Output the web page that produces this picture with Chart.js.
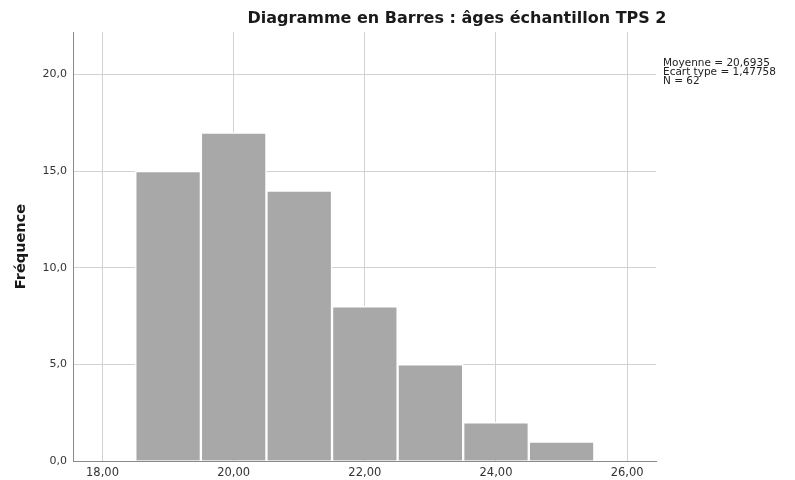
<!DOCTYPE html>
<html>
<head>
<meta charset="utf-8">
<script src="https://cdn.jsdelivr.net/npm/chart.js@4"></script>
<style>
  body { margin: 0; background: #fff; }
  #wrap { width: 795px; height: 480px; position: relative; }
</style>
</head>
<body>
<div id="wrap"><canvas id="histo" width="795" height="480"></canvas></div>
<script>
// Histogram data (bin centres = ages)
const binCentres = [19, 20, 21, 22, 23, 24, 25];
const frequencies = [15, 17, 14, 8, 5, 2, 1];
const xTickValues = [18, 20, 22, 24, 26];
const yTickValues = [0, 5, 10, 15, 20];
const statsLines = ["Moyenne = 20,6935", "Ecart type = 1,47758", "N = 62"];
const titleText = "Diagramme en Barres : âges échantillon TPS 2";

const fontFamily = "'DejaVu Sans', sans-serif";

// title + stats block drawn at fixed spots like SPSS does
const extraText = {
  id: "extraText",
  afterDraw(chart) {
    const ctx = chart.ctx;
    ctx.save();
    ctx.fillStyle = "#1a1a1a";
    ctx.font = "bold 16px " + fontFamily;
    ctx.textAlign = "center";
    ctx.textBaseline = "middle";
    ctx.fillText(titleText, 457, 19);

    ctx.font = "10.5px " + fontFamily;
    ctx.textAlign = "left";
    ctx.fillStyle = "#222";
    statsLines.forEach((line, i) => {
      ctx.fillText(line, 663, 63 + i * 9.2);
    });
    ctx.restore();
  }
};

const ctx = document.getElementById("histo").getContext("2d");
new Chart(ctx, {
  type: "bar",
  data: {
    datasets: [{
      data: binCentres.map((x, i) => ({ x: x, y: frequencies[i] })),
      backgroundColor: "#a8a8a8",
      borderColor: "#ffffff",
      borderWidth: 1.5,
      categoryPercentage: 1,
      barPercentage: 1
    }]
  },
  options: {
    responsive: false,
    animation: false,
    layout: { padding: { top: 32, right: 139, left: 0, bottom: 0 } },
    plugins: {
      legend: { display: false },
      tooltip: { enabled: false }
    },
    scales: {
      x: {
        type: "linear",
        offset: false,
        min: 17.55,
        max: 26.44,
        afterBuildTicks: (axis) => { axis.ticks = xTickValues.map(v => ({ value: v })); },
        afterFit: (axis) => { axis.height = 19; },
        grid: { color: "#d2d2d2", lineWidth: 1, drawTicks: false, offset: false },
        border: { color: "#8a8a8a", width: 1 },
        ticks: {
          padding: 5,
          color: "#333",
          font: { family: fontFamily, size: 11.5 },
          maxRotation: 0,
          callback: (v) => v.toFixed(2).replace(".", ",")
        }
      },
      y: {
        min: 0,
        max: 22.2,
        afterBuildTicks: (axis) => { axis.ticks = yTickValues.map(v => ({ value: v })); },
        afterFit: (axis) => { axis.width = 73; },
        grid: { color: "#d2d2d2", lineWidth: 1, drawTicks: false },
        border: { color: "#8a8a8a", width: 1 },
        title: {
          display: true,
          text: "Fréquence",
          color: "#1a1a1a",
          font: { family: fontFamily, size: 14.5, weight: "bold" },
          padding: { top: 13, bottom: 0 }
        },
        ticks: {
          padding: 6,
          color: "#333",
          font: { family: fontFamily, size: 11 },
          callback: (v) => v.toFixed(1).replace(".", ",")
        }
      }
    }
  },
  plugins: [extraText]
});
</script>
</body>
</html>
